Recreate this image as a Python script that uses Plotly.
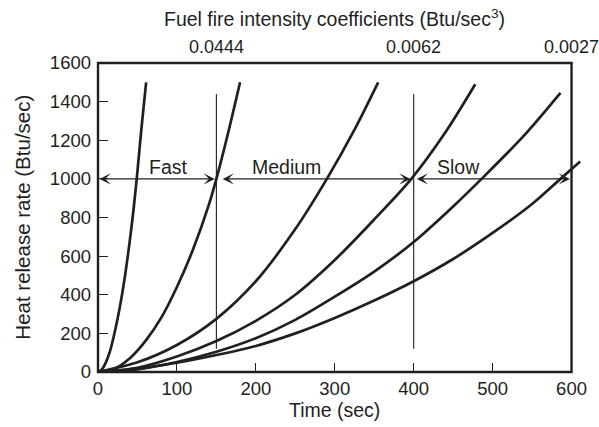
import plotly.graph_objects as go

# Heat release rate curves, Q (Btu/sec) against time t (sec)
t1 = [0, 5, 10, 15, 20, 25, 30, 35, 40, 45, 50, 55, 61]
q1 = [0, 14, 50, 105, 185, 280, 390, 520, 670, 840, 1040, 1260, 1500]

t2 = [0, 20, 40, 60, 80, 100, 120, 140, 150, 165, 180]
q2 = [0, 15, 70, 160, 280, 440, 630, 860, 1000, 1240, 1500]

t3 = [0, 50, 100, 150, 200, 250, 290, 325, 355]
q3 = [0, 50, 140, 275, 470, 740, 1000, 1255, 1500]

t4 = [0, 50, 100, 150, 200, 250, 300, 350, 397, 440, 478]
q4 = [0, 22, 80, 160, 265, 400, 580, 790, 1000, 1240, 1490]

t5 = [0, 50, 100, 150, 200, 250, 300, 350, 400, 450, 486, 540, 586]
q5 = [0, 14, 52, 105, 175, 270, 390, 520, 673, 857, 1000, 1225, 1445]

t6 = [0, 50, 100, 150, 200, 250, 300, 350, 400, 450, 500, 550, 586, 611]
q6 = [0, 18, 48, 88, 135, 200, 280, 370, 470, 585, 720, 870, 1000, 1090]

curves = [(t1, q1), (t2, q2), (t3, q3), (t4, q4), (t5, q5), (t6, q6)]

# Growth-class boundaries and labels
boundary_t = [150, 400]
boundary_q = [120, 1440]
class_names = ["Fast", "Medium", "Slow"]
class_spans = [(0, 148), (156, 396), (402, 598)]
class_label_t = [89, 239, 457]
reference_q = 1000
label_q = 1062

# Fire intensity coefficients shown above the frame
coef_t = [150, 400, 600]
coef_text = ["0.0444", "0.0062", "0.0027"]

x_ticks = [0, 100, 200, 300, 400, 500, 600]
y_ticks = [0, 200, 400, 600, 800, 1000, 1200, 1400, 1600]

X_MAX = 600
X_RANGE_END = 612
Y_MAX = 1600

INK = "#231f20"
FONT = "Liberation Sans, Arial, Helvetica, sans-serif"
TICK_SIZE = 18.5
TEXT_SIZE = 19.5

fig = go.Figure()

for t, q in curves:
    fig.add_trace(go.Scatter(
        x=t, y=q, mode="lines",
        line=dict(color=INK, width=2.7, shape="spline", smoothing=0.9),
        hoverinfo="skip", showlegend=False,
    ))

for bt in boundary_t:
    fig.add_trace(go.Scatter(
        x=[bt, bt], y=boundary_q, mode="lines",
        line=dict(color=INK, width=1.1),
        hoverinfo="skip", showlegend=False,
    ))

annotations = []
for (a, b), name, lt in zip(class_spans, class_names, class_label_t):
    annotations.append(dict(
        x=b, y=reference_q, ax=a, ay=reference_q, xref="x", yref="y",
        axref="x", ayref="y", text="", showarrow=True,
        arrowside="end+start", arrowhead=3, startarrowhead=3,
        arrowsize=1.35, startarrowsize=1.35, arrowwidth=1.4,
        arrowcolor=INK, standoff=0, startstandoff=0,
    ))
    annotations.append(dict(
        x=lt, y=label_q, xref="x", yref="y", text=name, showarrow=False,
        font=dict(size=TEXT_SIZE, color=INK, family=FONT),
    ))

for ct, ctext in zip(coef_t, coef_text):
    annotations.append(dict(
        x=ct, y=1.052, xref="x", yref="paper", text=ctext, showarrow=False,
        xanchor="center", yanchor="middle",
        font=dict(size=18, color=INK, family=FONT),
    ))

frac = X_MAX / X_RANGE_END
annotations += [
    dict(x=frac / 2, y=-0.123, xref="paper", yref="paper", text="Time (sec)",
         xanchor="center", yanchor="middle", showarrow=False,
         font=dict(size=TEXT_SIZE, color=INK, family=FONT)),
    dict(x=-0.157, y=0.5, xref="paper", yref="paper",
         text="Heat release rate (Btu/sec)", textangle=-90, showarrow=False,
         xanchor="center", yanchor="middle",
         font=dict(size=20.5, color=INK, family=FONT)),
    dict(x=frac / 2, y=1.146, xref="paper", yref="paper",
         xanchor="center", yanchor="middle",
         text="Fuel fire intensity coefficients (Btu/sec<sup>3</sup>)", showarrow=False,
         font=dict(size=TEXT_SIZE, color=INK, family=FONT)),
]

# Frame around the 0-600 s window
shapes = [dict(type="rect", xref="paper", yref="paper", x0=0, x1=frac, y0=0, y1=1,
               line=dict(color=INK, width=2.4), fillcolor="rgba(0,0,0,0)", layer="above")]

fig.update_layout(
    width=599, height=427,
    margin=dict(l=98, r=18, t=63, b=55),
    paper_bgcolor="white", plot_bgcolor="white",
    font=dict(family=FONT, size=TICK_SIZE, color=INK),
    xaxis=dict(range=[0, X_RANGE_END], tickvals=x_ticks, ticks="inside", ticklen=9,
               tickwidth=1.3, tickcolor=INK, showgrid=False, zeroline=False,
               showline=False, ticklabelstandoff=3, tickfont=dict(size=TICK_SIZE),
               automargin=False),
    yaxis=dict(range=[0, Y_MAX], tickvals=y_ticks, ticks="inside", ticklen=10,
               tickwidth=1.3, tickcolor=INK, showgrid=False, zeroline=False,
               showline=False, ticklabelstandoff=6, tickfont=dict(size=TICK_SIZE),
               automargin=False),
    annotations=annotations,
    shapes=shapes,
)

fig.write_html("out.html")
